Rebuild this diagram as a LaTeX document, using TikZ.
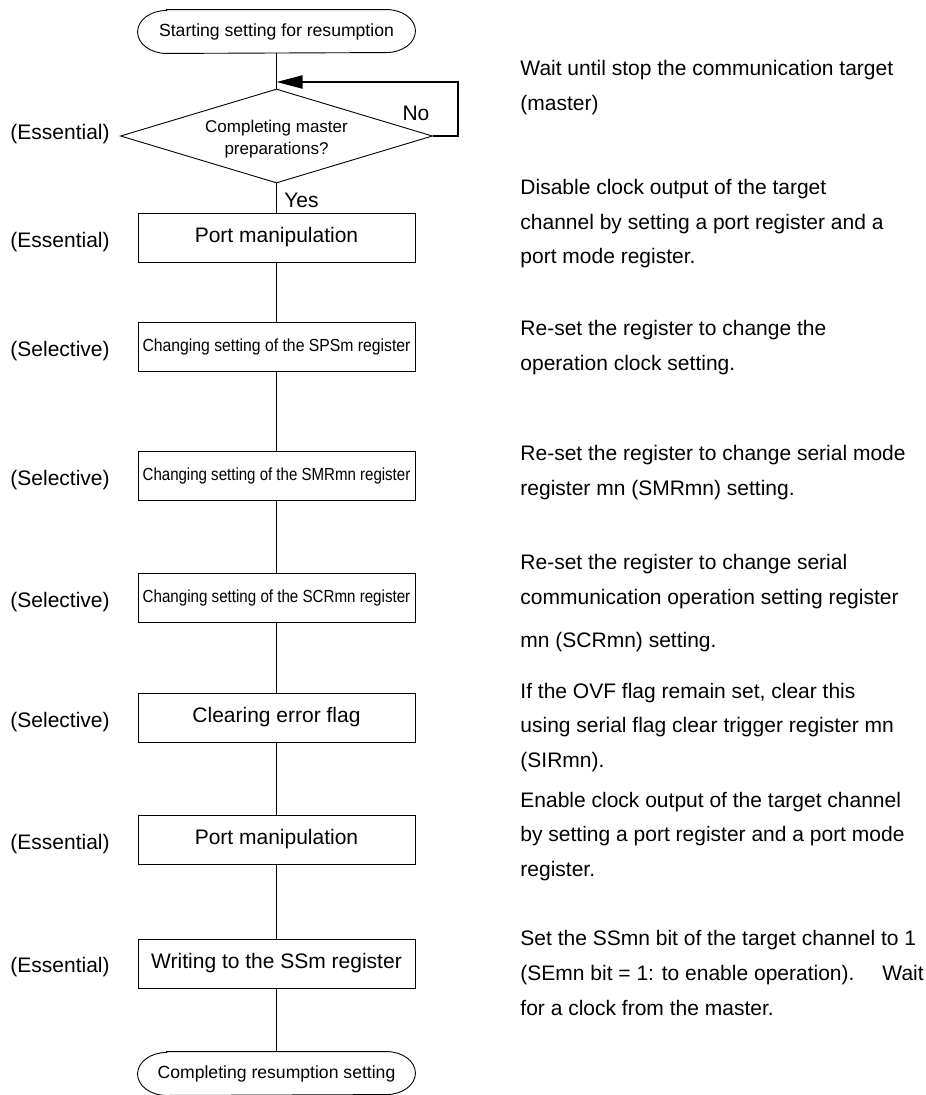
\documentclass[tikz,border=0pt]{standalone}
\usepackage{fontspec}
\setmainfont{Liberation Sans}
\usetikzlibrary{shapes.geometric,arrows.meta}
\newcommand{\sqz}[2]{\scalebox{#1}[1]{#2}}
\begin{document}
\begin{tikzpicture}[x=1pt,y=1pt,
  line width=0.9pt,
  procbox/.style={draw, minimum width=277pt, minimum height=49pt, inner sep=0pt, font=\fontsize{21}{25}\selectfont},
  smallbox/.style={procbox, font=\fontsize{17.5}{21}\selectfont},
  termbox/.style={minimum width=277pt, minimum height=43pt, inner sep=0pt, font=\fontsize{17.6}{21}\selectfont},
  decbox/.style={draw, shape=diamond, minimum width=312pt, minimum height=94pt, inner sep=0pt},
  dectxt/.style={align=center, inner sep=0pt, font=\fontsize{17}{22}\selectfont},
  lbl/.style={anchor=mid west, inner sep=0pt, font=\fontsize{21}{25}\selectfont},
  note/.style={anchor=mid west, inner sep=0pt, font=\fontsize{21}{25}\selectfont},
  flow/.style={line width=0.9pt},
  loopline/.style={line width=2pt, -{Triangle[length=26pt,width=13pt]}}
]
\useasboundingbox (0,0) rectangle (926,-1095);

% terminators
\node[termbox] (start) at (276.5,-31.5) {Starting setting for resumption};
\draw[flow] ([xshift=29pt]start.north west) -- ([xshift=-29pt]start.north east)
  arc[start angle=90,end angle=-90,x radius=29pt,y radius=21.5pt]
  -- ([xshift=29pt]start.south west)
  arc[start angle=270,end angle=90,x radius=29pt,y radius=21.5pt] -- cycle;

\node[termbox] (stop) at (276.5,-1073.5) {Completing resumption setting};
\draw[flow] ([xshift=29pt]stop.north west) -- ([xshift=-29pt]stop.north east)
  arc[start angle=90,end angle=-90,x radius=29pt,y radius=21.5pt]
  -- ([xshift=29pt]stop.south west)
  arc[start angle=270,end angle=90,x radius=29pt,y radius=21.5pt] -- cycle;

% decision
\node[decbox] (dec) at (276.5,-136) {};
\node[dectxt] (dectext) at (276.5,-139) {Completing master\\preparations?};
\node[note, anchor=center] (no) at (416,-113) {No};
\node[note, anchor=center] (yes) at (301.5,-200) {Yes};

% process boxes
\node[procbox] (b1) at (276.5,-237.5) {Port manipulation};
\node[smallbox] (b2) at (276.5,-346.5) {\sqz{0.9}{Changing setting of the SPSm register}};
\node[smallbox] (b3) at (276.5,-476) {\sqz{0.86}{Changing setting of the SMRmn register}};
\node[smallbox] (b4) at (276.5,-597.5) {\sqz{0.865}{Changing setting of the SCRmn register}};
\node[procbox] (b5) at (276.5,-717.5) {Clearing error flag};
\node[procbox] (b6) at (276.5,-839.5) {Port manipulation};
\node[procbox] (b7) at (276.5,-963.5) {Writing to the SSm register};

% connectors
\coordinate (loopin) at (276.5,-82);
\draw[flow] (start.south) -- (dec.north);
\draw[loopline] (dec.east) -- (458,-136) -- (458,-82) -- (loopin);
\draw[flow] (dec.south) -- (b1.north);
\draw[flow] (b1.south) -- (b2.north);
\draw[flow] (b2.south) -- (b3.north);
\draw[flow] (b3.south) -- (b4.north);
\draw[flow] (b4.south) -- (b5.north);
\draw[flow] (b5.south) -- (b6.north);
\draw[flow] (b6.south) -- (b7.north);
\draw[flow] (b7.south) -- (stop.north);

% left labels
\node[lbl] (l1) at (10,-137) {(Essential)};
\node[lbl] (l2) at (10,-245) {(Essential)};
\node[lbl] (l3) at (10,-354) {(Selective)};
\node[lbl] (l4) at (10,-483) {(Selective)};
\node[lbl] (l5) at (10,-605) {(Selective)};
\node[lbl] (l6) at (10,-725) {(Selective)};
\node[lbl] (l7) at (10,-847) {(Essential)};
\node[lbl] (l8) at (10,-970) {(Essential)};

% right notes
\foreach \n/\y/\t in {
  r1/73/{Wait until stop the communication target},
  r2/108/{(master)},
  r3/192/{Disable clock output of the target},
  r4/227/{channel by setting a port register and a},
  r5/261/{port mode register.},
  r6/333/{Re-set the register to change the},
  r7/368/{operation clock setting.},
  r8/458/{Re-set the register to change serial mode},
  r9/493/{register mn (SMRmn) setting.},
  r10/567/{Re-set the register to change serial},
  r11/602/{communication operation setting register},
  r12/645/{mn (SCRmn) setting.},
  r13/696/{If the OVF flag remain set, clear this},
  r14/730/{using serial flag clear trigger register mn},
  r15/765/{(SIRmn).},
  r16/805/{Enable clock output of the target channel},
  r17/839/{by setting a port register and a port mode},
  r18/874/{register.},
  r19/943/{Set the SSmn bit of the target channel to 1},
  r20/978/{(SEmn bit = 1: to enable operation).\hspace{28pt}Wait},
  r21/1013/{for a clock from the master.}}
  \node[note] (\n) at (520,-\y) {\t};
\end{tikzpicture}
\end{document}
